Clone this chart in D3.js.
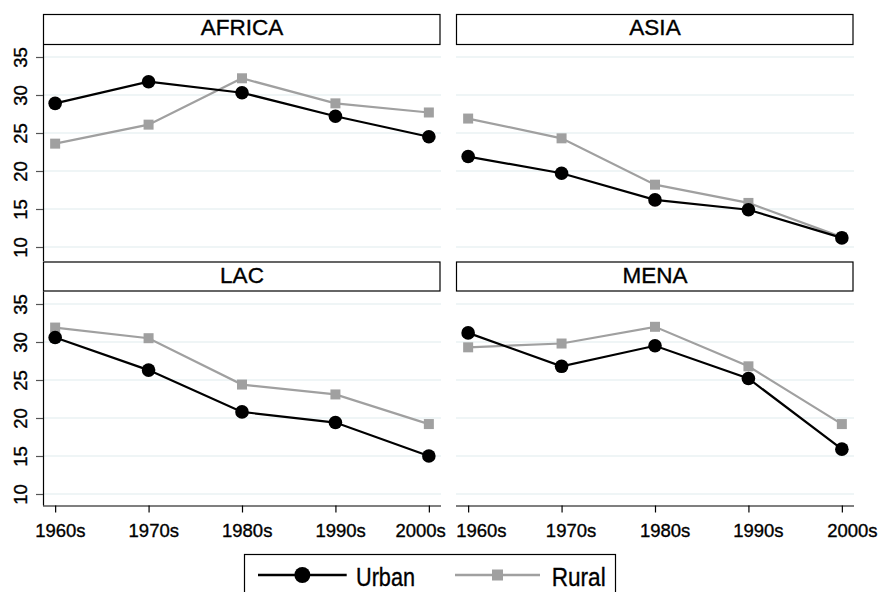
<!DOCTYPE html>
<html>
<head>
<meta charset="utf-8">
<script src="https://cdn.jsdelivr.net/npm/d3@7"></script>
<style>
  html, body { margin: 0; padding: 0; background: #fff; }
  svg { display: block; font-family: "Liberation Sans", Arial, sans-serif; }
  svg text { stroke: #000; stroke-width: 0.35px; }
</style>
</head>
<body>
<svg id="chart" width="880" height="592"></svg>
<script>
// ---- data ----
const decades = ["1960s", "1970s", "1980s", "1990s", "2000s"];
const regions = ["AFRICA", "ASIA", "LAC", "MENA"];
const yTicks = [10, 15, 20, 25, 30, 35];
const seriesNames = ["Urban", "Rural"];

const urbanAfrica = [28.9, 31.75, 30.3, 27.2, 24.5];
const ruralAfrica = [23.6, 26.1, 32.2, 28.9, 27.7];
const urbanAsia   = [21.9, 19.7, 16.2, 14.9, 11.2];
const ruralAsia   = [26.9, 24.3, 18.2, 15.8, 11.3];
const urbanLAC    = [30.6, 26.3, 20.8, 19.4, 15.0];
const ruralLAC    = [31.9, 30.5, 24.4, 23.1, 19.2];
const urbanMENA   = [31.2, 26.8, 29.5, 25.2, 15.9];
const ruralMENA   = [29.3, 29.8, 32.0, 26.8, 19.2];

const urbanByRegion = [urbanAfrica, urbanAsia, urbanLAC, urbanMENA];
const ruralByRegion = [ruralAfrica, ruralAsia, ruralLAC, ruralMENA];

// ---- layout / style ----
const colX = [[43, 441], [456, 854]];
const rowY = [ { titleTop: 14, plotTop: 45, plotBottom: 261 },
               { titleTop: 261.5, plotTop: 291.5, plotBottom: 505.5 } ];
const yRangeRows = [[247, 57], [494, 304]];
const urbanColor = "#000";
const ruralColor = "#a0a0a0";
const gridColor = "#eaf2f3";
const xLabelShift = [[4.7, 4.7, 4.7, 4.7, -8.7], [12.7, 9, 9.6, 9.4, 10]];

const svg = d3.select("#chart");

regions.forEach((name, i) => {
  const col = i % 2, row = Math.floor(i / 2);
  const [x0, x1] = colX[col];
  const R = rowY[row];
  const x = d3.scalePoint().domain(decades).range([x0, x1]).padding(0.13);
  const y = d3.scaleLinear().domain([10, 35]).range(yRangeRows[row]);
  const g = svg.append("g");

  // gridlines
  g.selectAll(".grid").data(yTicks).enter().append("line")
    .attr("x1", x0).attr("x2", x1)
    .attr("y1", d => y(d)).attr("y2", d => y(d))
    .attr("stroke", gridColor).attr("stroke-width", 1.6);

  // title box
  g.append("rect")
    .attr("x", x0 + 0.5).attr("y", R.titleTop + 0.5)
    .attr("width", x1 - x0 - 1.5).attr("height", R.plotTop - R.titleTop - 1)
    .attr("fill", "#fff").attr("stroke", "#000").attr("stroke-width", 1.2);
  g.append("text")
    .attr("x", (x0 + x1) / 2).attr("y", R.titleTop + 21.2)
    .attr("text-anchor", "middle").attr("font-size", 22.5).attr("fill", "#000")
    .text(name);

  // y axis (left column only)
  if (col === 0) {
    g.append("line").attr("x1", x0 + 0.5).attr("x2", x0 + 0.5)
      .attr("y1", R.plotTop).attr("y2", R.plotBottom)
      .attr("stroke", "#000").attr("stroke-width", 1.2);
    const yAxis = d3.axisLeft(y).tickValues(yTicks).tickSize(7).tickPadding(0).tickFormat(d3.format("d"));
    const ya = g.append("g").attr("transform", `translate(${x0},0)`).call(yAxis);
    ya.select(".domain").remove();
    ya.selectAll(".tick line").attr("stroke", "#555").attr("stroke-width", 1.2);
    ya.selectAll(".tick text")
      .attr("x", null).attr("dy", null)
      .attr("transform", `translate(${27 - x0},0) rotate(-90)`)
      .attr("text-anchor", "middle").attr("font-size", 18.5).attr("fill", "#000")
      .attr("font-family", "Liberation Sans, Arial, sans-serif");
  }

  // x axis (bottom row only)
  if (row === 1) {
    const xAxis = d3.axisBottom(x).tickSize(7).tickSizeOuter(0).tickPadding(0);
    const xa = g.append("g").attr("transform", `translate(0,${R.plotBottom})`).call(xAxis);
    xa.select(".domain").attr("d", `M${x0},0.5H${x1}`).attr("stroke", "#000").attr("stroke-width", 1.2);
    xa.selectAll(".tick line").attr("stroke", "#000").attr("stroke-width", 1.2);
    xa.selectAll(".tick text")
      .attr("y", 31.2).attr("dy", null)
      .attr("dx", (d, k) => xLabelShift[col][k])
      .attr("font-size", 18.5).attr("fill", "#000")
      .attr("font-family", "Liberation Sans, Arial, sans-serif");
  }

  const line = d3.line().x((d, k) => x(decades[k])).y(d => y(d));
  const rural = ruralByRegion[i], urban = urbanByRegion[i];

  g.append("path").datum(rural).attr("d", line)
    .attr("fill", "none").attr("stroke", ruralColor).attr("stroke-width", 2.2);
  g.selectAll(".rsq").data(rural).enter().append("rect")
    .attr("x", (d, k) => x(decades[k]) - 5).attr("y", d => y(d) - 5)
    .attr("width", 10).attr("height", 10).attr("fill", ruralColor);

  g.append("path").datum(urban).attr("d", line)
    .attr("fill", "none").attr("stroke", urbanColor).attr("stroke-width", 2.2);
  g.selectAll(".uc").data(urban).enter().append("circle")
    .attr("cx", (d, k) => x(decades[k])).attr("cy", d => y(d))
    .attr("r", 6.8).attr("fill", urbanColor);
});

// ---- legend ----
const lg = svg.append("g");
lg.append("rect").attr("x", 244.5).attr("y", 554.5).attr("width", 371).attr("height", 60)
  .attr("fill", "#fff").attr("stroke", "#000").attr("stroke-width", 1.2);
const legendItems = [
  { name: seriesNames[0], color: urbanColor, lx0: 258, lx1: 346.7, tx: 356, tw: 59, shape: "circle" },
  { name: seriesNames[1], color: ruralColor, lx0: 455, lx1: 540, tx: 551.7, tw: 54, shape: "square" }
];
legendItems.forEach(it => {
  const cy = 575, cx = (it.lx0 + it.lx1) / 2;
  lg.append("line").attr("x1", it.lx0).attr("x2", it.lx1).attr("y1", cy).attr("y2", cy)
    .attr("stroke", it.color).attr("stroke-width", 2.4);
  if (it.shape === "circle") {
    lg.append("circle").attr("cx", cx).attr("cy", cy).attr("r", 8).attr("fill", it.color);
  } else {
    lg.append("rect").attr("x", cx - 5.5).attr("y", cy - 5.5).attr("width", 11).attr("height", 11).attr("fill", it.color);
  }
  lg.append("text").attr("x", it.tx).attr("y", 586)
    .attr("font-size", 26).attr("textLength", it.tw).attr("lengthAdjust", "spacingAndGlyphs")
    .attr("fill", "#000").text(it.name);
});
</script>
</body>
</html>
